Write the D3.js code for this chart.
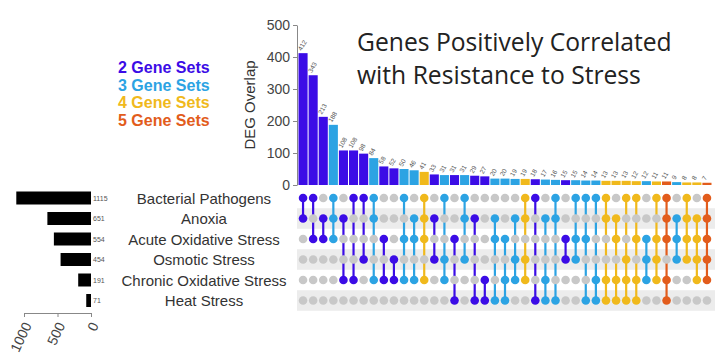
<!DOCTYPE html>
<html><head><meta charset="utf-8">
<script src="https://cdn.jsdelivr.net/npm/d3@7"></script>
<style>
html,body{margin:0;padding:0;background:#fff;}
svg{display:block;font-family:"Liberation Sans",Arial,sans-serif;}
</style></head><body>
<svg id="chart" width="723" height="357"></svg>
<script>
// ---- data ----
const sets = ["Bacterial Pathogens","Anoxia","Acute Oxidative Stress","Osmotic Stress","Chronic Oxidative Stress","Heat Stress"];
const setSizes = [1115, 651, 554, 454, 191, 71];
const overlapValues = [412,343,213,188,108,108,98,84,58,52,50,46,41,33,31,31,31,29,27,20,20,19,19,18,17,16,15,15,14,14,13,13,13,12,12,11,11,9,8,8,7];
const combos = [[0,1],[0,2],[1,2],[0,1,2],[1,4],[0,4],[0,3],[0,1,4],[2,4],[3,4],[0,2,4],[1,2,4],[0,1,2,4],[1,3],[0,3,4],[2,5],[0,1,3],[1,5],[4,5],[1,2,5],[2,4,5],[1,3,4],[0,1,3,4],[0,5],[1,4,5],[0,1,5],[2,3],[0,2,3],[0,2,5],[0,4,5],[0,1,4,5],[1,2,4,5],[0,3,4,5],[0,2,4,5],[2,3,4],[0,2,3,4],[0,1,2,4,5],[1,2,3],[0,1,2,3],[1,2,3,4],[0,1,2,3,4]];
const legendLabels = ["2 Gene Sets","3 Gene Sets","4 Gene Sets","5 Gene Sets"];
const degreeColors = ["#3b0ce6","#2ca3e3","#f0b91c","#e25c1c"];
const topTicks = [0,100,200,300,400,500];
const leftTicks = [0,500,1000];
const titleLines = ["Genes Positively Correlated","with Resistance to Stress"];

const svg = d3.select("#chart");
const colorFor = n => degreeColors[n-2];

// ---- scales ----
const x = d3.scaleBand().domain(d3.range(overlapValues.length)).range([298,712]).paddingInner(0.1).paddingOuter(0.05);
const yTop = d3.scaleLinear().domain([0,500]).range([185,25]);
const row = d3.scaleBand().domain(d3.range(sets.length)).range([187.75,310.75]);
const xLeft = d3.scaleLinear().domain([0,1000]).range([91,24]);
const cx = i => x(i) + x.bandwidth()/2;
const cy = j => row(j) + row.bandwidth()/2;

// ---- matrix background stripes ----
svg.append("g").selectAll("rect").data(d3.range(sets.length).filter(j=>j%2===1)).join("rect")
  .attr("x",297).attr("width",418).attr("y",j=>row(j)).attr("height",row.bandwidth())
  .attr("fill","#ececec");

// ---- top bars ----
svg.append("g").selectAll("rect").data(overlapValues).join("rect")
  .attr("x",(d,i)=>x(i)).attr("width",x.bandwidth())
  .attr("y",d=>yTop(d)).attr("height",d=>yTop(0)-yTop(d))
  .attr("fill",(d,i)=>colorFor(combos[i].length));

svg.append("g").selectAll("text").data(overlapValues).join("text")
  .attr("transform",(d,i)=>`translate(${cx(i)-1.5},${yTop(d)-2}) rotate(-60)`)
  .attr("font-size",6.5).attr("fill","#555").text(d=>d);

// top y-axis
const yAxis = svg.append("g").attr("transform","translate(297,0)")
  .call(d3.axisLeft(yTop).tickValues(topTicks).tickSize(4).tickSizeOuter(0));
yAxis.select(".domain").attr("stroke","#888");
yAxis.selectAll(".tick line").attr("stroke","#888");
yAxis.selectAll("text").attr("font-size",14).attr("fill","#444").attr("font-family","Liberation Sans, Arial, sans-serif");

svg.append("text").attr("transform","translate(255,105) rotate(-90)")
  .attr("text-anchor","middle").attr("font-size",15).attr("fill","#333").text("DEG Overlap");

// ---- matrix ----
const mg = svg.append("g");
combos.forEach((c,i)=>{
  const col = colorFor(c.length);
  mg.append("line").attr("x1",cx(i)).attr("x2",cx(i))
    .attr("y1",cy(d3.min(c))).attr("y2",cy(d3.max(c)))
    .attr("stroke",col).attr("stroke-width",2.2);
  sets.forEach((s,j)=>{
    const on = c.includes(j);
    mg.append("circle").attr("cx",cx(i)).attr("cy",cy(j)).attr("r",4.3)
      .attr("fill",on?col:"#c8c8c8");
  });
});

// ---- set labels ----
svg.append("g").selectAll("text").data(sets).join("text")
  .attr("x",204).attr("y",(d,j)=>cy(j)+5.5).attr("text-anchor","middle")
  .attr("font-size",15).attr("fill","#333").text(d=>d);

// ---- left set-size bars ----
svg.append("g").selectAll("rect").data(setSizes).join("rect")
  .attr("x",d=>xLeft(d)).attr("width",d=>xLeft(0)-xLeft(d))
  .attr("y",(d,j)=>cy(j)-6.5).attr("height",13).attr("fill","#000");
svg.append("g").selectAll("text").data(setSizes).join("text")
  .attr("x",xLeft(0)+2).attr("y",(d,j)=>cy(j)+2.5)
  .attr("font-size",7).attr("fill","#555").text(d=>d);

const lAxis = svg.append("g").attr("transform","translate(0,313)")
  .call(d3.axisBottom(xLeft).tickValues(leftTicks).tickFormat(d3.format("d")).tickSize(4).tickSizeOuter(0));
lAxis.select(".domain").attr("stroke","#888");
lAxis.selectAll(".tick line").attr("stroke","#888");
lAxis.selectAll("text").attr("font-size",14).attr("fill","#444")
  .attr("font-family","Liberation Sans, Arial, sans-serif")
  .attr("text-anchor","end").attr("dy","0.35em")
  .attr("transform","translate(3,10) rotate(-65)").attr("y",0).attr("x",0);

// ---- legend ----
svg.append("g").selectAll("text").data(legendLabels).join("text")
  .attr("x",118).attr("y",(d,i)=>73+i*17.7)
  .attr("font-size",16).attr("font-weight","bold")
  .attr("fill",(d,i)=>degreeColors[i]).text(d=>d);

// ---- title ----
const tg = svg.append("g");
titleLines.forEach((t,i)=>{
  tg.append("text").attr("x",357).attr("y",51+i*33)
    .attr("font-family","Open Sans, sans-serif").attr("font-size",22).attr("fill","#222").text(t);
});
const w0 = tg.select("text").node().getComputedTextLength();
tg.selectAll("text").attr("font-size",22*315/w0);
</script>
</body></html>
